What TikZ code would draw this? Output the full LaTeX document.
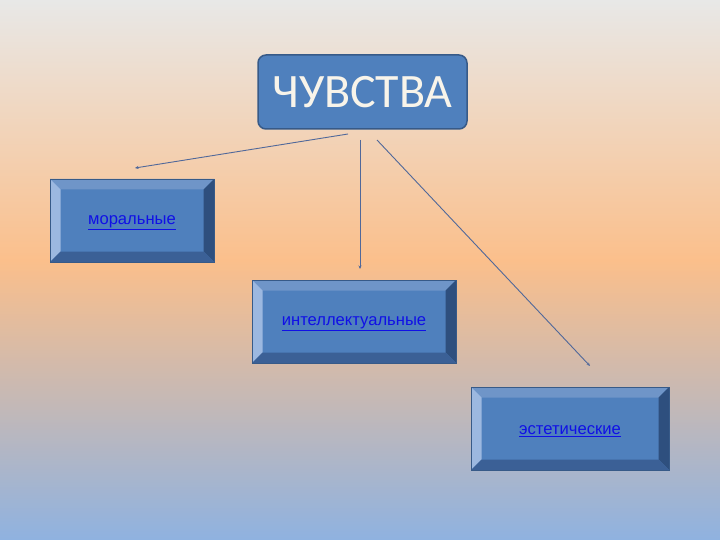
\documentclass[tikz,border=0pt]{standalone}
\usepackage{fontspec}
\setmainfont{Liberation Sans}
\newfontfamily\titlefont{Carlito}
\usetikzlibrary{arrows.meta}
\definecolor{bgtop}{HTML}{E8E8E7}
\definecolor{bgmid}{HTML}{FBBF8B}
\definecolor{bgbot}{HTML}{8FB2E0}
\definecolor{face}{HTML}{4F80BD}
\definecolor{edgedark}{HTML}{375A88}
\definecolor{bvtop}{HTML}{6F95C8}
\definecolor{bvleft}{HTML}{9CB8E0}
\definecolor{bvright}{HTML}{2E4F7E}
\definecolor{bvbot}{HTML}{3B6096}
\definecolor{linkblue}{HTML}{1010E6}
\definecolor{titletext}{HTML}{F8F4EA}
\definecolor{conn}{HTML}{50689A}
\tikzset{
  titlebox/.style={draw=edgedark, line width=1.5pt, fill=face, rounded corners=8pt,
    minimum width=209pt, minimum height=74pt, text=titletext, font=\titlefont\fontsize{48}{48}\selectfont, inner sep=0pt},
  bevelbox/.style={fill=face, outer sep=0pt, inner sep=0pt},
  linktext/.style={text=linkblue, font=\fontsize{16.6}{18}\selectfont, inner sep=0pt},
  conn/.style={draw=conn, line width=0.9pt, -{Stealth[length=3.5pt,width=3pt]}}
}
\newcommand{\bevelit}[2]{%
  \fill[bvtop] (#1.north west) -- (#1.north east) -- ([shift={(-#2,#2)}]#1.north east) -- ([shift={(#2,#2)}]#1.north west) -- cycle;
  \fill[bvleft] (#1.north west) -- ([shift={(#2,#2)}]#1.north west) -- ([shift={(#2,-#2)}]#1.south west) -- (#1.south west) -- cycle;
  \fill[bvright] (#1.north east) -- (#1.south east) -- ([shift={(-#2,-#2)}]#1.south east) -- ([shift={(-#2,#2)}]#1.north east) -- cycle;
  \fill[bvbot] (#1.south west) -- ([shift={(#2,-#2)}]#1.south west) -- ([shift={(-#2,-#2)}]#1.south east) -- (#1.south east) -- cycle;
  \draw[edgedark, line width=0.8pt] (#1.north west) rectangle (#1.south east);
}
\begin{document}
\begin{tikzpicture}[x=1pt,y=-1pt]
\useasboundingbox (0,0) rectangle (720,540);
\shade[top color=bgtop, bottom color=bgmid] (0,0) rectangle (720,262);
\shade[top color=bgmid, bottom color=bgbot] (0,260) rectangle (720,540);

\node[titlebox] (t) at (362.5,92) {ЧУВСТВА};

\node[bevelbox, minimum width=164pt, minimum height=83pt] (m) at (132,220.5) {};
\bevelit{m}{10.5}
\node[linktext] (mt) at (132,223) {\underline{моральные}};

\node[bevelbox, minimum width=204pt, minimum height=83pt] (i) at (354,321.5) {};
\bevelit{i}{10.5}
\node[linktext] (it) at (354,324) {\underline{интеллектуальные}};

\node[bevelbox, minimum width=198pt, minimum height=83pt] (e) at (570,428.5) {};
\bevelit{e}{10.5}
\node[linktext] (et) at (570,431) {\underline{эстетические}};

\coordinate (s1) at (348,134);
\coordinate (e1) at (135,168);
\coordinate (s2) at (360,140);
\coordinate (e2) at (360,269);
\coordinate (s3) at (377,140);
\coordinate (e3) at (590,366);
\draw[conn] (s1) -- (e1);
\draw[conn] (s2) -- (e2);
\draw[conn] (s3) -- (e3);
\end{tikzpicture}
\end{document}
